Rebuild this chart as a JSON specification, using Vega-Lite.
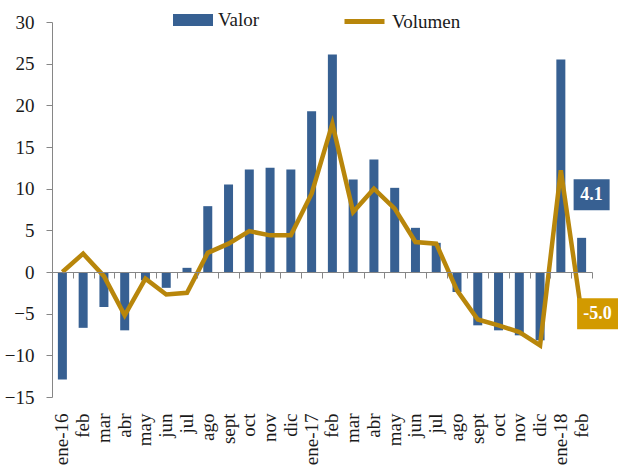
{
  "$schema": "https://vega.github.io/schema/vega-lite/v6.json",
  "width": 540,
  "height": 375,
  "autosize": "none",
  "padding": {"left": 52, "top": 22, "right": 26, "bottom": 78},
  "config": {"view": {"stroke": null}, "font": "'Liberation Serif', 'Times New Roman', 'DejaVu Serif', serif", "legend": {"padding": 0}},
  "datasets": {
    "d": [
      {"mes": "ene-16", "valor": -12.9, "volumen": 0.0},
      {"mes": "feb-16", "valor": -6.7, "volumen": 2.2},
      {"mes": "mar-16", "valor": -4.2, "volumen": -0.5},
      {"mes": "abr-16", "valor": -7.0, "volumen": -5.2},
      {"mes": "may-16", "valor": -1.0, "volumen": -0.8},
      {"mes": "jun-16", "valor": -1.9, "volumen": -2.7},
      {"mes": "jul-16", "valor": 0.5, "volumen": -2.5},
      {"mes": "ago-16", "valor": 7.9, "volumen": 2.3},
      {"mes": "sept-16", "valor": 10.5, "volumen": 3.4},
      {"mes": "oct-16", "valor": 12.3, "volumen": 4.9},
      {"mes": "nov-16", "valor": 12.5, "volumen": 4.4},
      {"mes": "dic-16", "valor": 12.3, "volumen": 4.4},
      {"mes": "ene-17", "valor": 19.3, "volumen": 9.4},
      {"mes": "feb-17", "valor": 26.1, "volumen": 17.8},
      {"mes": "mar-17", "valor": 11.1, "volumen": 7.2},
      {"mes": "abr-17", "valor": 13.5, "volumen": 10.0},
      {"mes": "may-17", "valor": 10.1, "volumen": 7.6},
      {"mes": "jun-17", "valor": 5.3, "volumen": 3.6},
      {"mes": "jul-17", "valor": 3.5, "volumen": 3.4},
      {"mes": "ago-17", "valor": -2.4, "volumen": -2.2},
      {"mes": "sept-17", "valor": -6.4, "volumen": -5.7},
      {"mes": "oct-17", "valor": -7.0, "volumen": -6.4},
      {"mes": "nov-17", "valor": -7.6, "volumen": -7.2},
      {"mes": "dic-17", "valor": -8.2, "volumen": -8.8},
      {"mes": "ene-18", "valor": 25.5, "volumen": 12.2},
      {"mes": "feb-18", "valor": 4.1, "volumen": -5.0}
    ]
  },
  "data": {"name": "d"},
  "layer": [
    {
      "mark": {"type": "bar", "width": 9},
      "encoding": {
        "x": {
          "field": "mes", "type": "nominal", "sort": null,
          "scale": {"paddingInner": 0, "paddingOuter": 0},
          "axis": {
            "title": null, "orient": "bottom", "domain": false, "ticks": false,
            "labelAngle": -90, "labelAlign": "right", "labelBaseline": "middle",
            "labelPadding": 16, "labelFontSize": 19, "labelColor": "#1a1a1a",
            "labelExpr": "indexof(datum.value,'ene')===0 ? datum.value : split(datum.value,'-')[0]"
          }
        },
        "y": {
          "field": "valor", "type": "quantitative",
          "scale": {"domain": [-15, 30], "nice": false},
          "axis": {
            "title": null, "values": [-15, -10, -5, 0, 5, 10, 15, 20, 25, 30],
            "grid": false, "domainColor": "#868686", "tickColor": "#868686",
            "tickSize": 6, "labelPadding": 12, "labelFontSize": 19,
            "labelColor": "#1a1a1a"
          }
        },
        "fill": {
          "datum": "Valor",
          "scale": {"domain": ["Valor"], "range": ["#376092"]},
          "legend": {
            "orient": "none", "legendX": 121, "legendY": -22, "title": null,
            "symbolType": "M-1,-0.3H1V0.3H-1Z", "symbolSize": 1600,
            "symbolStrokeWidth": 0, "labelFontSize": 19,
            "labelColor": "#1a1a1a", "labelOffset": 5
          }
        }
      }
    },
    {
      "mark": {"type": "line", "strokeWidth": 4.5},
      "encoding": {
        "x": {
          "field": "mes", "type": "nominal", "sort": null,
          "axis": {
            "title": null, "orient": "bottom", "offset": -125, "labels": false,
            "domainColor": "#868686", "tickColor": "#868686", "tickSize": 6,
            "tickBand": "extent", "zindex": 1
          }
        },
        "y": {"field": "volumen", "type": "quantitative", "axis": {"title": null}},
        "stroke": {
          "datum": "Volumen",
          "scale": {"domain": ["Volumen"], "range": ["#B8860B"]},
          "legend": {
            "orient": "none", "legendX": 290, "legendY": -23, "title": null,
            "symbolType": "stroke", "symbolSize": 1600, "symbolStrokeWidth": 5,
            "labelFontSize": 19,
            "labelColor": "#1a1a1a", "labelOffset": 5
          }
        }
      }
    },
    {
      "transform": [{"filter": "datum.mes === 'feb-18'"}],
      "mark": {"type": "point", "shape": "M-1,-0.86H1V0.86H-1Z", "size": 1296, "filled": true, "color": "#376092", "opacity": 1, "strokeWidth": 0, "xOffset": 10, "yOffset": -43},
      "encoding": {
        "x": {"field": "mes", "type": "nominal", "sort": null, "axis": null},
        "y": {"field": "valor", "type": "quantitative"}
      }
    },
    {
      "transform": [
        {"filter": "datum.mes === 'feb-18'"},
        {"calculate": "replace(format(datum.valor,'.1f'),'\u2212','-')", "as": "lv"}
      ],
      "mark": {"type": "text", "color": "white", "fontWeight": "bold", "fontSize": 18, "align": "center", "baseline": "middle", "xOffset": 10, "yOffset": -43},
      "encoding": {
        "x": {"field": "mes", "type": "nominal", "sort": null, "axis": null},
        "y": {"field": "valor", "type": "quantitative"},
        "text": {"field": "lv"}
      }
    },
    {
      "transform": [{"filter": "datum.mes === 'feb-18'"}],
      "mark": {"type": "point", "shape": "M-1,-0.756H1V0.756H-1Z", "size": 1681, "filled": true, "color": "#D29A00", "opacity": 1, "strokeWidth": 0, "xOffset": 16, "yOffset": 0},
      "encoding": {
        "x": {"field": "mes", "type": "nominal", "sort": null, "axis": null},
        "y": {"field": "volumen", "type": "quantitative"}
      }
    },
    {
      "transform": [
        {"filter": "datum.mes === 'feb-18'"},
        {"calculate": "replace(format(datum.volumen,'.1f'),'\u2212','-')", "as": "lv"}
      ],
      "mark": {"type": "text", "color": "white", "fontWeight": "bold", "fontSize": 18, "align": "center", "baseline": "middle", "xOffset": 16, "yOffset": 0},
      "encoding": {
        "x": {"field": "mes", "type": "nominal", "sort": null, "axis": null},
        "y": {"field": "volumen", "type": "quantitative"},
        "text": {"field": "lv"}
      }
    }
  ],
  "resolve": {"axis": {"x": "independent"}}
}
